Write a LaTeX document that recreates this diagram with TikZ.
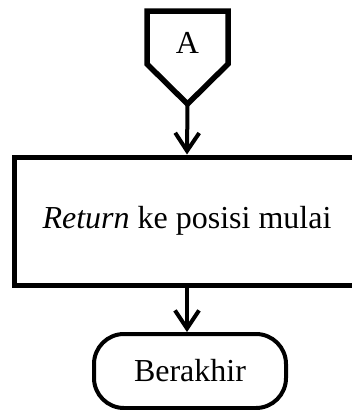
\documentclass[tikz,border=0pt]{standalone}
\usepackage{fontspec}
\setmainfont{Liberation Serif}
\usetikzlibrary{arrows.meta}

\begin{document}
\begin{tikzpicture}[x=1pt, y=-1pt, >={Straight Barb[length=18pt,width=24pt]},
  proses/.style={draw, line width=5pt, minimum width=346pt, minimum height=128pt, inner sep=0pt},
  terminal/.style={draw, line width=4pt, rounded corners=30pt, minimum width=192pt, minimum height=74pt},
  alur/.style={->, line width=4pt},
  font=\fontsize{32}{38}\selectfont]
  \useasboundingbox (0,0) rectangle (352,410);
  % off-page connector
  \draw[line width=5.5pt, line join=miter] (147,11) -- (228,11) -- (228,64) -- (187.5,104) -- (147,64) -- cycle;
  \node (konektor) at (187.5,43) {A};
  \coordinate (ujung) at (187.5,104);
  % process box and end terminal
  \node[proses] (kembali) at (187,221) {\textit{Return} ke posisi mulai};
  \node[terminal] (selesai) at (190,371) {Berakhir};
  \draw[alur] (ujung) -- (kembali.north);
  \draw[alur] (kembali.south) -- (kembali.south |- selesai.north);
\end{tikzpicture}
\end{document}
